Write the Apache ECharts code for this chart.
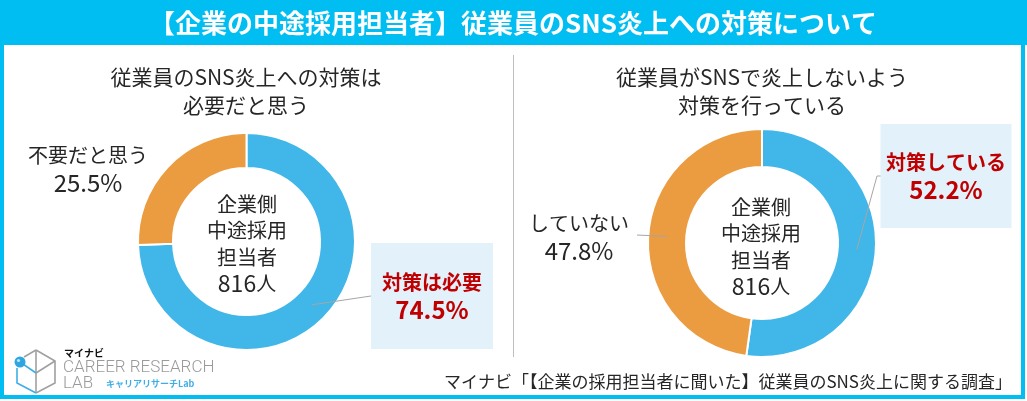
<!DOCTYPE html>
<html>
<head>
<meta charset="utf-8">
<script src="https://cdn.jsdelivr.net/npm/echarts@6/dist/echarts.min.js"></script>
<style>
html,body{margin:0;padding:0;background:#fff;}
#chart{width:1027px;height:401px;}
</style>
</head>
<body>
<div id="chart"></div>
<script>
// ---- data ----
const mainTitle = '【企業の中途採用担当者】従業員のSNS炎上への対策について';
const subTitles = ['従業員のSNS炎上への対策は\n必要だと思う', '従業員がSNSで炎上しないよう\n対策を行っている'];
const categories1 = ['対策は必要', '不要だと思う'];
const values1 = [74.5, 25.5];
const categories2 = ['対策している', 'していない'];
const values2 = [52.2, 47.8];
const respondents = [816, 816];
const centerLabel = '企業側\n中途採用\n担当者';
const sourceText = 'マイナビ「【企業の採用担当者に聞いた】従業員のSNS炎上に関する調査」';

// ---- layout ----
const FONT = '"Noto Sans CJK JP", "Noto Sans", sans-serif';
const BLUE = '#41B6E8';
const ORANGE = '#EB9B40';
const CYAN = '#00BDF2';
const RED = '#C00000';
const DARK = '#262626';

const pies = [
  {center: [246.5, 241.5], radius: [73.5, 108.5], values: values1, cats: categories1},
  {center: [762, 243], radius: [76, 114], values: values2, cats: categories2}
];
// label placement per series / data index
const labelPlace = [
  [{x: 432, y: 296, end: [[371, 296]]}, {x: 88, y: 169, end: null}],
  [{x: 946, y: 176, end: [[877, 176], [881, 176]]}, {x: 579, y: 237, end: [[637, 235]]}]
];

function midPoint(si, di) {
  const p = pies[si];
  const total = p.values.reduce((a, b) => a + b, 0);
  let before = 0;
  for (let i = 0; i < di; i++) before += p.values[i];
  const theta = (before + p.values[di] / 2) / total * 2 * Math.PI;
  const r = (p.radius[0] + p.radius[1]) / 2;
  return [p.center[0] + r * Math.sin(theta), p.center[1] - r * Math.cos(theta)];
}

const richStyles = {
  rn: {color: RED, fontSize: 20, fontWeight: 'bold', fontFamily: FONT, lineHeight: 27, align: 'center'},
  rv: {color: RED, fontSize: 24, fontWeight: 'bold', fontFamily: FONT, lineHeight: 27, align: 'center'},
  dn: {color: DARK, fontSize: 20, fontFamily: FONT, lineHeight: 28, align: 'center'},
  dv: {color: DARK, fontSize: 24, fontFamily: FONT, lineHeight: 28, align: 'center'}
};

// ring series (slices)
function ringSeries(si) {
  const p = pies[si];
  return {
    type: 'pie',
    z: 2,
    center: p.center,
    radius: p.radius,
    startAngle: 90,
    clockwise: true,
    silent: true,
    animation: false,
    itemStyle: {borderColor: '#fff', borderWidth: 2},
    label: {show: false},
    labelLine: {show: false},
    data: p.cats.map((c, i) => ({name: c, value: p.values[i], itemStyle: {color: i === 0 ? BLUE : ORANGE}}))
  };
}

// overlay series carrying labels and guide lines above the ring
function labelSeries(si) {
  const p = pies[si];
  const boxes = [
    {padding: [26, 6], width: 110},
    {padding: [25, 5], width: 121}
  ];
  return {
    type: 'pie',
    z: 5,
    center: p.center,
    radius: p.radius,
    startAngle: 90,
    clockwise: true,
    avoidLabelOverlap: false,
    silent: true,
    animation: false,
    itemStyle: {color: 'rgba(0,0,0,0)', borderWidth: 0},
    label: {
      show: true,
      position: 'outside',
      rich: richStyles,
      overflow: 'none',
      formatter: function (pr) {
        const v = pr.value.toFixed(1) + '%';
        return pr.dataIndex === 0 ? '{rn|' + pr.name + '}\n{rv|' + v + '}' : '{dn|' + pr.name + '}\n{dv|' + v + '}';
      }
    },
    labelLine: {show: true, showAbove: true, lineStyle: {color: '#A6A6A6', width: 1}},
    labelLayout: function (params) {
      const lp = labelPlace[si][params.dataIndex];
      const out = {x: lp.x, y: lp.y, align: 'center', verticalAlign: 'middle'};
      if (lp.end) {
        out.labelLinePoints = [midPoint(si, params.dataIndex)].concat(lp.end);
      }
      return out;
    },
    data: p.cats.map((c, i) => ({
      name: c,
      value: p.values[i],
      label: i === 0 ? {backgroundColor: '#E2F1FA', padding: boxes[si].padding, width: boxes[si].width, overflow: 'none', align: 'center'} : {},
      labelLine: {show: !!labelPlace[si][i].end}
    }))
  };
}

function centerText(x, y, n) {
  return {
    type: 'text', x: x, y: y,
    style: {
      text: '{a|' + centerLabel.split('\n').join('}\n{a|') + '}\n{n|' + n + '}{a|人}',
      align: 'center', verticalAlign: 'middle',
      rich: {
        a: {fill: DARK, font: '20px ' + FONT, lineHeight: 26.5, align: 'center'},
        n: {fill: DARK, font: '23px ' + FONT, lineHeight: 26.5, align: 'center'}
      }
    }
  };
}

const graphics = [
  {type: 'rect', shape: {x: 0, y: 0, width: 1027, height: 45}, style: {fill: CYAN}, z: 0},
  {type: 'rect', shape: {x: 2, y: 2, width: 1021, height: 395}, style: {fill: 'none', stroke: CYAN, lineWidth: 4}, z: 0},
  {type: 'text', x: 513, y: 23, style: {text: mainTitle, fill: '#fff', font: 'bold 26px ' + FONT, align: 'center', verticalAlign: 'middle'}},
  {type: 'line', shape: {x1: 513.5, y1: 55, x2: 513.5, y2: 357}, style: {stroke: '#BFBFBF', lineWidth: 1}},
  {type: 'text', x: 246, y: 91, style: {text: subTitles[0], fill: DARK, font: '21px ' + FONT, align: 'center', verticalAlign: 'middle', lineHeight: 28}},
  {type: 'text', x: 762, y: 91, style: {text: subTitles[1], fill: DARK, font: '21px ' + FONT, align: 'center', verticalAlign: 'middle', lineHeight: 28}},
  centerText(247, 244, respondents[0]),
  centerText(761, 247, respondents[1]),
  {type: 'text', x: 1012, y: 382, style: {text: sourceText, fill: DARK, font: '17px ' + FONT, align: 'right', verticalAlign: 'middle'}},
  // logo
  {type: 'polyline', shape: {points: [[36, 350], [55, 361], [55, 383], [36, 393]]}, style: {stroke: '#A0A0A0', lineWidth: 1.6, fill: 'none'}},
  {type: 'polyline', shape: {points: [[36, 350], [36, 393]]}, style: {stroke: '#A0A0A0', lineWidth: 1.6, fill: 'none'}},
  {type: 'polyline', shape: {points: [[36, 373], [55, 361]]}, style: {stroke: '#A0A0A0', lineWidth: 1.6, fill: 'none'}},
  {type: 'polyline', shape: {points: [[36, 350], [24, 357]]}, style: {stroke: '#A0A0A0', lineWidth: 1.6, fill: 'none'}},
  {type: 'polyline', shape: {points: [[17, 368], [17, 383], [36, 393]]}, style: {stroke: '#3FAEE6', lineWidth: 1.6, fill: 'none'}},
  {type: 'polyline', shape: {points: [[20, 362], [36, 373]]}, style: {stroke: '#3FAEE6', lineWidth: 1.6, fill: 'none'}},
  {type: 'circle', shape: {cx: 20, cy: 362, r: 5.5}, style: {fill: '#2FA6E0'}},
  {type: 'circle', shape: {cx: 18.5, cy: 360.5, r: 1.6}, style: {fill: '#BFE6F8'}},
  {type: 'text', x: 64, y: 353, style: {text: 'マイナビ', fill: '#111', font: 'bold 10px ' + FONT, verticalAlign: 'middle'}},
  {type: 'text', x: 63, y: 368, style: {text: 'CAREER RESEARCH', fill: '#9A9A9A', font: '300 17px Roboto', verticalAlign: 'middle'}},
  {type: 'text', x: 63, y: 384, style: {text: 'LAB', fill: '#9A9A9A', font: '300 17px Roboto', verticalAlign: 'middle'}},
  {type: 'text', x: 106, y: 384, style: {text: 'キャリアリサーチLab', fill: '#3FAEE6', font: 'bold 9px ' + FONT, verticalAlign: 'middle'}}
];

const chart = echarts.init(document.getElementById('chart'), null, {renderer: 'canvas'});
chart.setOption({
  animation: false,
  backgroundColor: '#fff',
  graphic: {elements: graphics},
  series: [ringSeries(0), ringSeries(1), labelSeries(0), labelSeries(1)]
});
</script>
</body>
</html>
